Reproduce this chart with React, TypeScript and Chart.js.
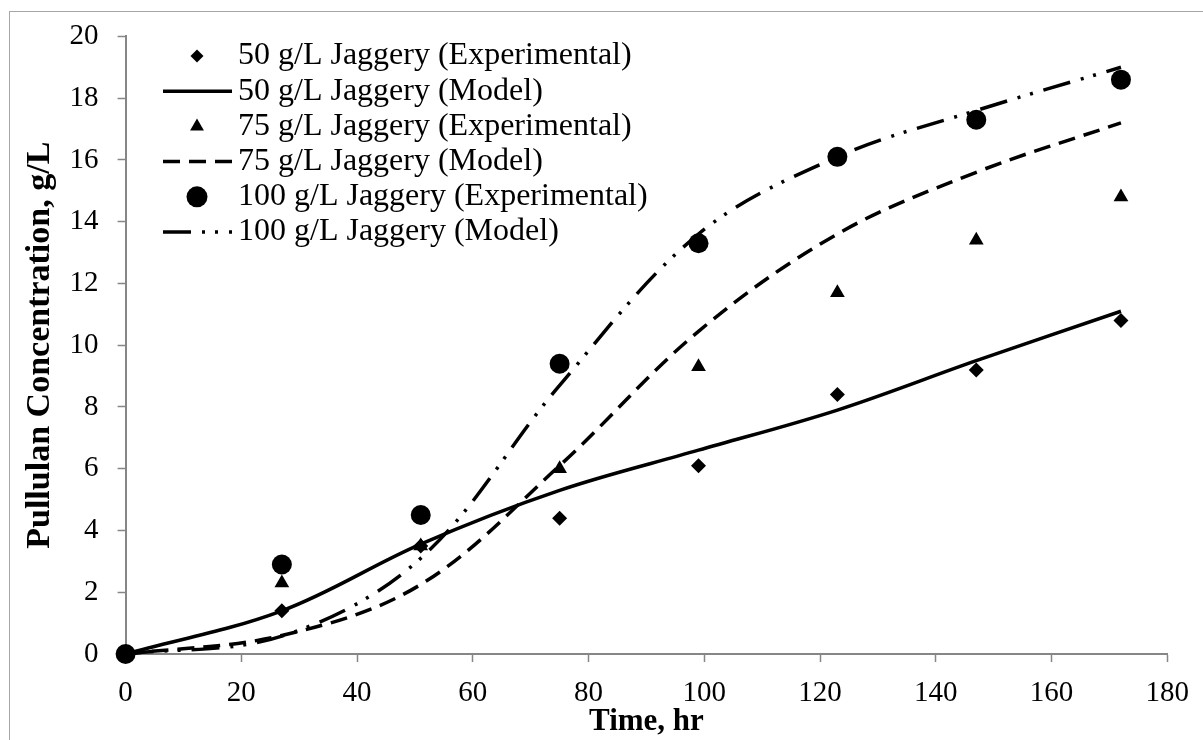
import React, { useEffect, useRef } from "react";
import { Chart, registerables } from "chart.js";

Chart.register(...registerables);

// ---- data ----
const times = [0, 27, 51, 75, 99, 123, 147, 172];
const exp50 = [0, 1.4, 3.5, 4.4, 6.1, 8.4, 9.2, 10.8];
const model50 = [0, 1.4, 3.56, 5.3, 6.6, 7.9, 9.5, 11.1];
const exp75 = [0, 2.3, 3.5, 6.0, 9.3, 11.7, 13.4, 14.8];
const model75 = [0, 0.6, 2.25, 6.1, 10.45, 13.6, 15.6, 17.2];
const exp100 = [0, 2.9, 4.5, 9.4, 13.3, 16.1, 17.3, 18.6];
const model100 = [0, 0.58, 3.1, 8.7, 13.6, 16.1, 17.6, 19.0];

const seriesLabels = [
  "50 g/L Jaggery (Experimental)",
  "50 g/L Jaggery (Model)",
  "75 g/L Jaggery (Experimental)",
  "75 g/L Jaggery (Model)",
  "100 g/L Jaggery (Experimental)",
  "100 g/L Jaggery (Model)",
];

const xTitle = "Time, hr";
const yTitle = "Pullulan Concentration, g/L";
const xMin = 0, xMax = 180, xStep = 20;
const yMin = 0, yMax = 20, yStep = 2;

const FONT = '"Liberation Serif", "Times New Roman", serif';
const AXIS_GRAY = "#868686";

const toXY = (xs: number[], ys: number[]) => xs.map((x, i) => ({ x, y: ys[i] }));

function drawMarker(ctx: CanvasRenderingContext2D, style: string, x: number, y: number, r: number) {
  ctx.beginPath();
  if (style === "rectRot") {
    ctx.moveTo(x, y - r);
    ctx.lineTo(x + r, y);
    ctx.lineTo(x, y + r);
    ctx.lineTo(x - r, y);
    ctx.closePath();
  } else if (style === "triangle") {
    const a = -Math.PI / 2;
    for (let k = 0; k < 3; k++) {
      const ang = a + (k * 2 * Math.PI) / 3;
      const px = x + Math.cos(ang) * r;
      const py = y + Math.sin(ang) * r;
      if (k === 0) ctx.moveTo(px, py);
      else ctx.lineTo(px, py);
    }
    ctx.closePath();
  } else {
    ctx.arc(x, y, r, 0, Math.PI * 2);
  }
  ctx.fill();
}

const legendPlugin = {
  id: "insideLegend",
  afterDraw(chart: any) {
    const ctx: CanvasRenderingContext2D = chart.ctx;
    const top = 56;
    const step = 35.2;
    ctx.save();
    ctx.fillStyle = "#000";
    ctx.strokeStyle = "#000";
    chart.data.datasets.forEach((ds: any, i: number) => {
      const y = top + step * i;
      if (ds.showLine) {
        ctx.beginPath();
        ctx.setLineDash(ds.borderDash || []);
        ctx.lineWidth = ds.borderWidth;
        ctx.lineCap = "butt";
        ctx.moveTo(163, y);
        ctx.lineTo(232, y);
        ctx.stroke();
        ctx.setLineDash([]);
      } else {
        drawMarker(ctx, ds.pointStyle, 197, y, ds.legendRadius);
      }
      ctx.font = `32px ${FONT}`;
      ctx.textBaseline = "middle";
      ctx.textAlign = "left";
      ctx.fillText(ds.label, 238, y);
    });
    ctx.restore();
  },
};

export default function App() {
  const ref = useRef<HTMLCanvasElement | null>(null);

  useEffect(() => {
    document.body.style.margin = "0";
    if (!ref.current) return;
    const expBase = {
      type: "scatter" as const,
      showLine: false,
      backgroundColor: "#000",
      borderColor: "#000",
      borderWidth: 0,
      clip: false,
    };
    const modelBase = {
      type: "scatter" as const,
      showLine: true,
      pointRadius: 0,
      pointHoverRadius: 0,
      borderColor: "#000",
      backgroundColor: "#000",
      borderWidth: 3.5,
      tension: 0.35,
      fill: false,
      clip: false,
    };
    const chart = new Chart(ref.current, {
      type: "scatter",
      data: {
        datasets: [
          { ...expBase, label: seriesLabels[0], data: toXY(times, exp50), pointStyle: "rectRot", pointRadius: 7.5, legendRadius: 6.5 } as any,
          { ...modelBase, label: seriesLabels[1], data: toXY(times, model50), borderDash: [] } as any,
          { ...expBase, label: seriesLabels[2], data: toXY(times, exp75), pointStyle: "triangle", pointRadius: 8.5, legendRadius: 8 } as any,
          { ...modelBase, label: seriesLabels[3], data: toXY(times, model75), borderDash: [17, 9] } as any,
          { ...expBase, label: seriesLabels[4], data: toXY(times, exp100), pointStyle: "circle", pointRadius: 10, legendRadius: 10.5 } as any,
          { ...modelBase, label: seriesLabels[5], data: toXY(times, model100), borderDash: [28, 11, 3, 10, 3, 11] } as any,
        ],
      },
      options: {
        responsive: false,
        animation: false,
        devicePixelRatio: 1,
        layout: { padding: { left: 0, top: 32, right: 30.5, bottom: 0 } },
        plugins: { legend: { display: false }, tooltip: { enabled: false } },
        scales: {
          x: {
            type: "linear",
            min: xMin,
            max: xMax,
            afterFit: (s: any) => { s.height = 86; },
            ticks: { stepSize: xStep, color: "#000", font: { family: FONT, size: 29 }, padding: 14, maxRotation: 0 },
            grid: { display: true, drawOnChartArea: false, drawTicks: true, tickLength: 8, tickColor: AXIS_GRAY, tickWidth: 1.5 },
            border: { display: true, color: AXIS_GRAY, width: 2 },
            title: { display: true, text: xTitle, color: "#000", font: { family: FONT, size: 31, weight: "bold", lineHeight: 1 }, padding: { top: 0, bottom: 3 } },
          },
          y: {
            type: "linear",
            min: yMin,
            max: yMax,
            afterFit: (s: any) => { s.width = 125.6; },
            ticks: { stepSize: yStep, color: "#000", font: { family: FONT, size: 29 }, padding: 19 },
            grid: { display: true, drawOnChartArea: false, drawTicks: true, tickLength: 8, tickColor: AXIS_GRAY, tickWidth: 1.5 },
            border: { display: true, color: AXIS_GRAY, width: 2 },
            title: { display: true, text: yTitle, color: "#000", font: { family: FONT, size: 34, weight: "bold", lineHeight: 1 }, padding: { top: 23, bottom: 0 } },
          },
        },
      } as any,
      plugins: [legendPlugin],
    });
    return () => chart.destroy();
  }, []);

  return (
    <div style={{ position: "fixed", left: 0, top: 0, width: 1203, height: 740, overflow: "hidden", background: "#fff" }}>
      <div style={{ position: "absolute", left: 9, top: 11, width: 1400, height: 900, border: "1.5px solid #a6a6a6", boxSizing: "border-box" }} />
      <canvas ref={ref} width={1203} height={740} style={{ position: "absolute", left: 0, top: 0, width: 1203, height: 740 }} />
    </div>
  );
}
